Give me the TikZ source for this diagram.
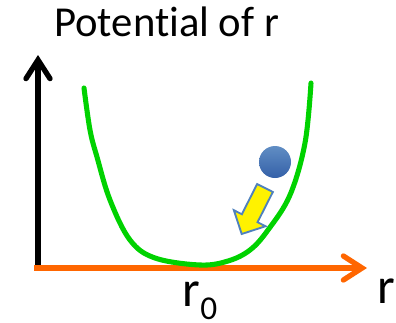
\documentclass[tikz,border=0pt]{standalone}
\usepackage{fontspec}
\setmainfont{Carlito}[Ligatures={NoCommon}]
\usepackage{tikz}
\usepackage{xcolor}
\usetikzlibrary{arrows.meta,calc}
\definecolor{axisOrange}{RGB}{255,102,0}
\definecolor{curveGreen}{RGB}{0,210,0}
\definecolor{ballBlue}{RGB}{79,129,189}
\definecolor{ballDark}{RGB}{52,96,168}

\begin{document}
\begin{tikzpicture}[x=0.75pt,y=-0.75pt,
    axis/.style={line width=4pt, -{Straight Barb[length=14pt,width=18pt,line cap=round]}},
    lbl/.style={inner sep=0pt}]
    \useasboundingbox (0,0) rectangle (396,322);
    % axes
    \coordinate (O) at (38,270);
    \coordinate (ytop) at (38,55);
    \coordinate (xend) at (367,268);
    \draw[axis, black] (O) -- (ytop);
    \draw[axis, axisOrange] (34,268) -- (xend);
    % potential well
    \draw[curveGreen, line width=3.8pt, line cap=round] plot[smooth, tension=0.6] coordinates
        {(84,88) (90,130) (97,157) (110,200) (130,240) (155,258) (200,265) (228,261) (250,250) (268,230) (290,195) (305,143) (311,83)};
    % ball and push arrow
    \shade[top color=ballBlue!90!white, bottom color=ballDark] (275,162) circle (16);
    \coordinate (yt) at (265,188);
    \coordinate (yh) at (241.7,234);
    \coordinate (hb) at ($(yt)!0.657!(yh)$);
    \draw[ballBlue, fill=yellow, line width=1.4pt, line join=miter]
        ($(yt)!6.6pt!90:(yh)$) -- ($(hb)!6.6pt!90:(yh)$) -- ($(hb)!13.3pt!90:(yh)$) -- (yh)
        -- ($(hb)!13.3pt!-90:(yh)$) -- ($(hb)!6.6pt!-90:(yh)$) -- ($(yt)!6.6pt!-90:(yh)$) -- cycle;
    % labels
    \node[lbl, anchor=base west, font=\fontsize{32}{36}\selectfont] (title) at (54,36) {Potential of r};
    \node[lbl, anchor=base, font=\fontsize{38}{40}\selectfont] (rzero) at (200,306)
        {r\raisebox{-0.26em}{\fontsize{25}{28}\selectfont 0}};
    \node[lbl, anchor=base, font=\fontsize{38}{40}\selectfont] (rlab) at (386,303) {r};
\end{tikzpicture}
\end{document}
